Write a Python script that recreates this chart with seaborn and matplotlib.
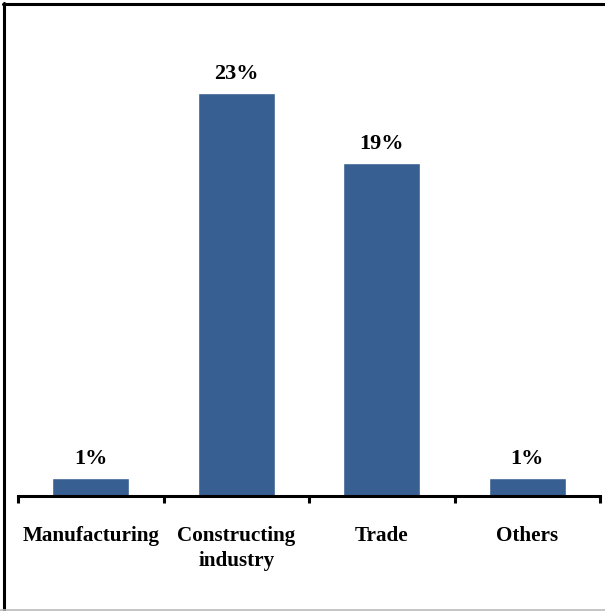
import matplotlib
matplotlib.use("Agg")
import matplotlib.pyplot as plt
from matplotlib.lines import Line2D
import seaborn as sns
import pandas as pd

categories = ["Manufacturing", "Constructing\nindustry", "Trade", "Others"]
shares = [1, 23, 19, 1]
value_labels = ["1%", "23%", "19%", "1%"]

sns.set_theme(style="white")
plt.rcParams["font.family"] = ["Liberation Serif", "DejaVu Serif"]

W, H = 605, 611
fig = plt.figure(figsize=(W / 100, H / 100), dpi=100)
ax = fig.add_axes([18 / W, (H - 496) / H, 582 / W, 456 / H])

df = pd.DataFrame({"sector": categories, "share": shares})
sns.barplot(data=df, x="sector", y="share", color="#375F91", width=0.53,
            saturation=1, ax=ax)

ax.set_xlim(-0.5, len(categories) - 0.5)
ax.set_ylim(0, 26)
ax.set_xlabel("")
ax.set_ylabel("")
ax.set_yticks([])

for side in ["left", "right", "top"]:
    ax.spines[side].set_visible(False)
ax.spines["bottom"].set_linewidth(2.2)
ax.spines["bottom"].set_color("black")

# boundary ticks between categories, labels at category centres
ax.set_xticks([i - 0.5 for i in range(len(categories) + 1)])
ax.set_xticklabels([])
ax.tick_params(axis="x", which="major", direction="out", length=5, width=2.2,
               color="black", bottom=True)
ax.set_xticks(range(len(categories)), minor=True)
ax.set_xticklabels(categories, minor=True, fontsize=15.2, fontweight="bold",
                   linespacing=1.37)
ax.tick_params(axis="x", which="minor", length=0, pad=21.5, labelcolor="black")

for i, (v, lab) in enumerate(zip(shares, value_labels)):
    ax.annotate(lab, (i, v), xytext=(0, 6.5), textcoords="offset points",
                ha="center", va="bottom", fontsize=16, fontweight="bold",
                color="black")

# frame around the figure
fig.add_artist(Line2D([4 / W, 4 / W], [0, 1 - 3 / H], transform=fig.transFigure,
                      color="black", linewidth=2.2))
fig.add_artist(Line2D([3 / W, 1], [1 - 4 / H, 1 - 4 / H], transform=fig.transFigure,
                      color="black", linewidth=2.2))
fig.add_artist(Line2D([0, 1], [1.5 / H, 1.5 / H], transform=fig.transFigure,
                      color="#bbbbbb", linewidth=1.2))

fig.savefig("out.png", dpi=100)
